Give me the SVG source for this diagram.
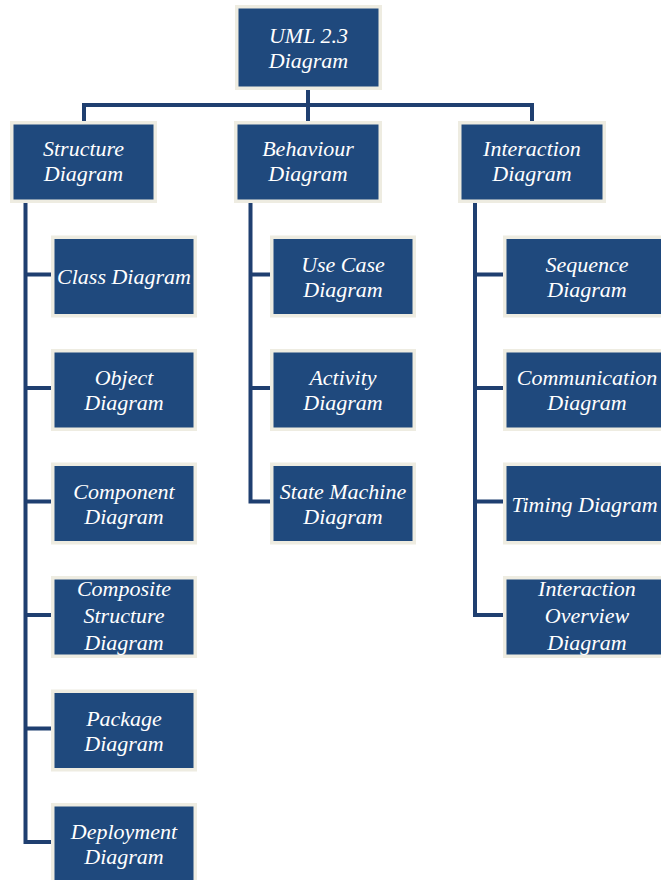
<svg xmlns="http://www.w3.org/2000/svg" width="661" height="880" viewBox="0 0 661 880">
<style>
.box{fill:#1F497D;stroke:#EEECE1;stroke-width:3.5}
.t{font-family:"Liberation Serif","Times New Roman",serif;font-style:italic;font-size:22px;fill:#FFFFFF;text-anchor:middle}
.c{fill:none;stroke:#1F3F70;stroke-width:4;stroke-linejoin:miter}
</style>
<rect width="661" height="880" fill="#FFFFFF"/>
<g id="connectors">
<path class="c" d="M308 90 V121"/>
<path class="c" d="M84 121 V105 H532 V121"/>
<path class="c" d="M25.5 203 V842 H51"/>
<path class="c" d="M25.5 274.5 H51 M25.5 388 H51 M25.5 501.5 H51 M25.5 615 H51 M25.5 728.5 H51"/>
<path class="c" d="M250.5 203 V501.5 H270"/>
<path class="c" d="M250.5 274.5 H270 M250.5 388 H270"/>
<path class="c" d="M475 203 V615 H503"/>
<path class="c" d="M475 274.5 H503 M475 388 H503 M475 501.5 H503"/>
</g>
<g id="uml">
<rect class="box" x="236.75" y="6.75" width="143.5" height="81.5"/>
<text class="t" x="308.5" y="43">UML 2.3</text>
<text class="t" x="308.5" y="68">Diagram</text>
</g>
<g id="structure">
<rect class="box" x="11.75" y="122.75" width="143.5" height="78.5"/>
<text class="t" x="83.5" y="156">Structure</text>
<text class="t" x="83.5" y="181">Diagram</text>
</g>
<g id="behaviour">
<rect class="box" x="235.75" y="122.75" width="144.5" height="78.5"/>
<text class="t" x="308" y="156">Behaviour</text>
<text class="t" x="308" y="181">Diagram</text>
</g>
<g id="interaction">
<rect class="box" x="459.75" y="122.75" width="144.5" height="78.5"/>
<text class="t" x="532" y="156">Interaction</text>
<text class="t" x="532" y="181">Diagram</text>
</g>
<g id="class">
<rect class="box" x="52.75" y="237.25" width="142.5" height="78.5"/>
<text class="t" x="124" y="283.5">Class Diagram</text>
</g>
<g id="object">
<rect class="box" x="52.75" y="350.75" width="142.5" height="78.5"/>
<text class="t" x="124" y="385">Object</text>
<text class="t" x="124" y="410">Diagram</text>
</g>
<g id="component">
<rect class="box" x="52.75" y="464.25" width="142.5" height="78.5"/>
<text class="t" x="124" y="498.5">Component</text>
<text class="t" x="124" y="523.5">Diagram</text>
</g>
<g id="composite">
<rect class="box" x="52.75" y="577.75" width="142.5" height="78.5"/>
<text class="t" x="124" y="596">Composite</text>
<text class="t" x="124" y="623">Structure</text>
<text class="t" x="124" y="650">Diagram</text>
</g>
<g id="package">
<rect class="box" x="52.75" y="691.25" width="142.5" height="78.5"/>
<text class="t" x="124" y="725.5">Package</text>
<text class="t" x="124" y="750.5">Diagram</text>
</g>
<g id="deployment">
<rect class="box" x="52.75" y="804.75" width="142.5" height="78.5"/>
<text class="t" x="124" y="839">Deployment</text>
<text class="t" x="124" y="864">Diagram</text>
</g>
<g id="usecase">
<rect class="box" x="271.75" y="237.25" width="142.5" height="78.5"/>
<text class="t" x="343" y="271.5">Use Case</text>
<text class="t" x="343" y="296.5">Diagram</text>
</g>
<g id="activity">
<rect class="box" x="271.75" y="350.75" width="142.5" height="78.5"/>
<text class="t" x="343" y="385">Activity</text>
<text class="t" x="343" y="410">Diagram</text>
</g>
<g id="statemachine">
<rect class="box" x="271.75" y="464.25" width="142.5" height="78.5"/>
<text class="t" x="343" y="498.5">State Machine</text>
<text class="t" x="343" y="523.5">Diagram</text>
</g>
<g id="sequence">
<rect class="box" x="504.75" y="237.25" width="164.5" height="78.5"/>
<text class="t" x="587" y="271.5">Sequence</text>
<text class="t" x="587" y="296.5">Diagram</text>
</g>
<g id="communication">
<rect class="box" x="504.75" y="350.75" width="164.5" height="78.5"/>
<text class="t" x="587" y="385">Communication</text>
<text class="t" x="587" y="410">Diagram</text>
</g>
<g id="timing">
<rect class="box" x="504.75" y="464.25" width="164.5" height="78.5"/>
<text class="t" x="584.5" y="511.5">Timing Diagram</text>
</g>
<g id="overview">
<rect class="box" x="504.75" y="577.75" width="164.5" height="78.5"/>
<text class="t" x="587" y="596">Interaction</text>
<text class="t" x="587" y="623">Overview</text>
<text class="t" x="587" y="650">Diagram</text>
</g>
</svg>
